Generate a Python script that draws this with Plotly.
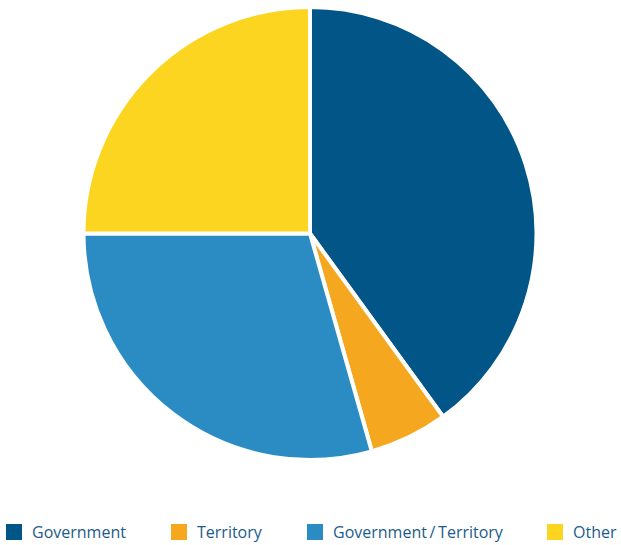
import plotly.graph_objects as go

labels = ["Government", "Territory", "Government\u2009/\u2009Territory", "Other"]
values = [40, 5.6, 29.4, 25]
colors = ["#025587", "#F5A81F", "#2B8CC4", "#FBD520"]

# legend layout (pixels)
legend_square_left = [6, 171, 307, 547]
square_size = 16
text_gap = 8
legend_center_y = 532

W, H = 621, 545
ML, MR, MT, MB = 0, 1, 7, 85
plot_w = W - ML - MR
plot_h = H - MT - MB


def px_to_paper_x(px):
    return (px - ML) / plot_w


def px_to_paper_y(py):
    return (H - MB - py) / plot_h


fig = go.Figure(go.Pie(
    labels=labels,
    values=values,
    sort=False,
    direction="clockwise",
    rotation=0,
    textinfo="none",
    marker=dict(colors=colors, line=dict(color="white", width=4)),
    domain=dict(x=[0, 1], y=[0, 1]),
    showlegend=False,
))

shapes = []
annotations = []
for lab, col, left in zip(labels, colors, legend_square_left):
    shapes.append(dict(
        type="rect", xref="paper", yref="paper",
        x0=px_to_paper_x(left), x1=px_to_paper_x(left + square_size),
        y0=px_to_paper_y(legend_center_y + square_size / 2),
        y1=px_to_paper_y(legend_center_y - square_size / 2),
        fillcolor=col, line=dict(width=0),
    ))
    annotations.append(dict(
        text=lab, xref="paper", yref="paper",
        x=px_to_paper_x(left + square_size + text_gap),
        y=px_to_paper_y(legend_center_y),
        xanchor="left", yanchor="middle", showarrow=False,
        font=dict(family="Open Sans", size=16, color="#1c5b8b"),
    ))

fig.update_layout(
    width=W, height=H,
    margin=dict(l=ML, r=MR, t=MT, b=MB),
    paper_bgcolor="white",
    plot_bgcolor="white",
    font=dict(family="Open Sans", size=16, color="#1c5b8b"),
    shapes=shapes,
    annotations=annotations,
    showlegend=False,
)

fig.write_html("out.html")
